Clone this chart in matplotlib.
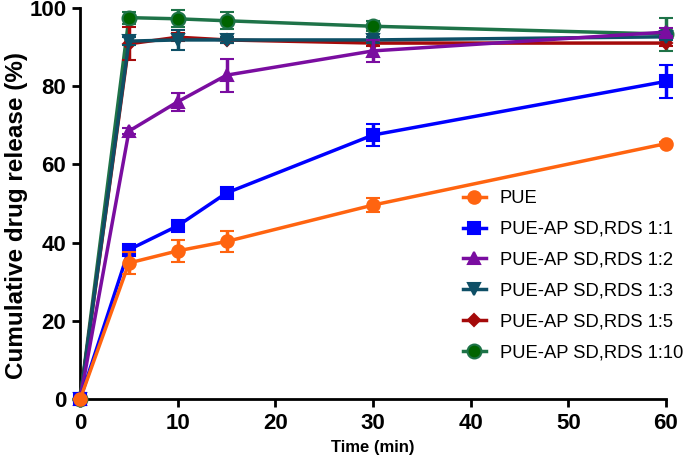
import matplotlib
matplotlib.use("Agg")
import matplotlib.pyplot as plt
from matplotlib.lines import Line2D

plt.rcParams['font.family'] = ['Liberation Sans', 'DejaVu Sans']

# time points (min)
time = [0, 5, 10, 15, 30, 60]

# cumulative release (%) and SD for each formulation
pue = [0, 34.8, 37.9, 40.3, 49.6, 65.3]
pue_sd = [0, 2.8, 2.8, 2.8, 1.8, 0.5]

ap_1_1 = [0, 38.2, 44.3, 52.7, 67.5, 81.2]
ap_1_1_sd = [0, 1.0, 1.0, 1.0, 2.8, 4.3]

ap_1_2 = [0, 68.5, 76.0, 82.8, 89.0, 93.8]
ap_1_2_sd = [0, 0.8, 2.3, 4.2, 2.8, 1.0]

ap_1_3 = [0, 91.5, 91.8, 91.8, 91.8, 92.6]
ap_1_3_sd = [0, 1.0, 2.5, 0.8, 0.8, 0.8]

ap_1_5 = [0, 90.8, 92.5, 91.8, 91.0, 91.0]
ap_1_5_sd = [0, 4.2, 1.0, 0.8, 0.8, 0.8]

ap_1_10 = [0, 97.5, 97.2, 96.7, 95.3, 93.3]
ap_1_10_sd = [0, 1.5, 2.2, 2.2, 1.3, 4.2]

labels = ['PUE', 'PUE-AP SD,RDS 1:1', 'PUE-AP SD,RDS 1:2',
          'PUE-AP SD,RDS 1:3', 'PUE-AP SD,RDS 1:5', 'PUE-AP SD,RDS 1:10']
series = [pue, ap_1_1, ap_1_2, ap_1_3, ap_1_5, ap_1_10]
errors = [pue_sd, ap_1_1_sd, ap_1_2_sd, ap_1_3_sd, ap_1_5_sd, ap_1_10_sd]
colors = ['#FF6410', '#0000FF', '#7A0DA0', '#0E4F66', '#A50A0A', '#1E7348']
faces = ['#FF6410', '#0000FF', '#7A0DA0', '#0E4F66', '#A50A0A', '#006400']
markers = ['o', 's', '^', 'v', 'D', 'o']
sizes = [9, 8, 9, 9, 6, 10]

fig = plt.figure(figsize=(6.85, 4.62), dpi=100)
ax = fig.add_axes([0.117, 0.136, 0.855, 0.847])

handles = []
n = len(series)
for i, (vals, err, lab, c, fc, m, ms) in enumerate(zip(series, errors, labels, colors, faces, markers, sizes)):
    # first series ends up on top, like the reference
    ax.errorbar(time, vals, yerr=err, color=c, marker=m, ms=ms,
                mfc=fc, mec=c, mew=1.5, lw=2.5, capsize=5, capthick=2.5,
                elinewidth=2.5, clip_on=False, zorder=10 + n - i)
    handles.append(Line2D([], [], color=c, marker=m, ms=ms, mfc=fc, mec=c,
                          mew=1.5, lw=2.5, label=lab))

ax.set_xlim(0, 60)
ax.set_ylim(0, 100)
ax.set_xticks([0, 10, 20, 30, 40, 50, 60])
ax.set_yticks([0, 20, 40, 60, 80, 100])

for s in ['top', 'right']:
    ax.spines[s].set_visible(False)
for s in ['left', 'bottom']:
    ax.spines[s].set_linewidth(2)
ax.tick_params(width=2, length=6, labelsize=16, pad=4)
for t in ax.get_xticklabels() + ax.get_yticklabels():
    t.set_fontweight('bold')

ax.set_xlabel('Time (min)', fontsize=12, fontweight='bold', labelpad=4)
ax.set_ylabel('Cumulative drug release (%)', fontsize=17.5, fontweight='bold')
ax.yaxis.set_label_coords(-0.089, 0.47)

fig.legend(handles=handles, loc='upper left', bbox_to_anchor=(463 / 685, 1 - 190 / 462),
           frameon=False, fontsize=13.2, handlelength=1.25, labelspacing=0.76,
           handletextpad=0.75, borderpad=0, borderaxespad=0)

fig.savefig('out.png', dpi=100)
